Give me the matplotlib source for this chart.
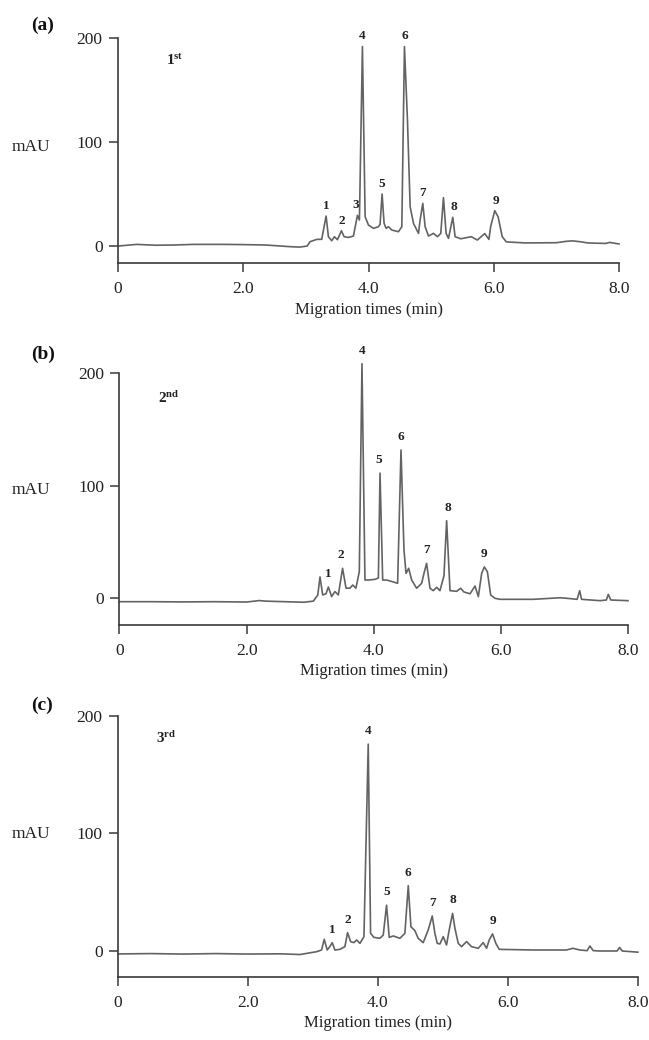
import matplotlib
matplotlib.use("Agg")
import matplotlib.pyplot as plt

# =========================
# Traces (time in min, signal in mAU)
# =========================

# (a) 1st run
a_time = [0.0, 0.3, 0.6, 0.9, 1.2, 1.7, 2.0, 2.36, 2.75, 2.9, 3.02, 3.067, 3.174, 3.253,
          3.323, 3.36, 3.413, 3.456, 3.504, 3.568, 3.61, 3.679, 3.759, 3.823, 3.855, 3.903,
          3.946, 3.999, 4.079, 4.159, 4.185, 4.217, 4.249, 4.281, 4.319, 4.372, 4.478, 4.532,
          4.574, 4.622, 4.665, 4.718, 4.798, 4.824, 4.867, 4.904, 4.958, 5.037, 5.101, 5.154,
          5.197, 5.239, 5.277, 5.346, 5.383, 5.473, 5.64, 5.738, 5.856, 5.923, 5.95, 6.016,
          6.07, 6.135, 6.201, 6.5, 7.0, 7.15, 7.26, 7.4, 7.5, 7.79, 7.85, 8.0]
a_signal = [0, 1.6, 0.8, 1.0, 1.6, 1.6, 1.4, 1.0, -0.6, -1.0, 0, 4.2, 6.4, 6.5,
            28.8, 9, 5.1, 9, 6.1, 14.7, 9, 8.3, 9.6, 29.5, 25, 191.7,
            28.2, 20.2, 17, 18.6, 21, 50, 21.8, 17, 18.6, 15.4, 13.8, 18.6,
            191.7, 121, 37.8, 21.8, 12.2, 25, 41, 18.6, 9.6, 12.2, 9, 12.2,
            46.5, 12.2, 7.4, 27.6, 9, 7, 9, 5.8, 12, 6.4, 18.6, 34,
            28, 9, 4, 3, 3.2, 4.5, 5, 4, 3, 2.5, 3.5, 2]
a_peak_ids = ["1", "2", "3", "4", "5", "6", "7", "8", "9"]
a_peak_t = [3.323, 3.568, 3.80, 3.903, 4.217, 4.574, 4.867, 5.36, 6.03]
a_peak_h = [28.8, 14.7, 29.5, 191.7, 50, 191.7, 41, 27.6, 34]

# (b) 2nd run
b_time = [0.0, 0.5, 1.0, 1.5, 2.0, 2.2, 2.3, 2.6, 2.9, 3.05, 3.12, 3.155, 3.197, 3.249,
          3.286, 3.338, 3.39, 3.443, 3.51, 3.564, 3.627, 3.669, 3.72, 3.773, 3.815, 3.862,
          3.915, 4.02, 4.073, 4.099, 4.141, 4.203, 4.308, 4.376, 4.429, 4.476, 4.508, 4.55,
          4.597, 4.675, 4.754, 4.79, 4.832, 4.885, 4.937, 4.99, 5.042, 5.105, 5.147, 5.2,
          5.305, 5.368, 5.42, 5.515, 5.593, 5.646, 5.698, 5.74, 5.788, 5.84, 5.908, 5.987,
          6.51, 6.93, 7.04, 7.2, 7.24, 7.27, 7.56, 7.66, 7.69, 7.73, 8.0]
b_signal = [-3, -3, -3.2, -3, -3.3, -2, -2.5, -3, -3.5, -2.5, 3, 19, 3, 4,
            10, 1.5, 6, 3, 26.6, 9, 9, 11.8, 9, 23.6, 208, 16.2,
            16.2, 16.8, 18, 111, 16.2, 16.2, 14.5, 13.3, 131.5, 42.8, 22.1, 26.6,
            16.2, 8.9, 13.3, 22, 31, 8.9, 6.8, 9.7, 6.8, 20, 68.8, 6.8,
            6.2, 8.9, 5.6, 4, 10.9, 1.5, 22.1, 27.8, 23.6, 2.9, 0, -0.9,
            -0.9, 0.5, 0, -0.9, 6.7, -0.9, -2.1, -1.5, 3.5, -1.5, -2.1]
b_peak_ids = ["1", "2", "4", "5", "6", "7", "8", "9"]
b_peak_t = [3.286, 3.49, 3.815, 4.085, 4.42, 4.832, 5.16, 5.74]
b_peak_h = [10, 26.6, 208, 111, 131.5, 31, 68.8, 27.8]

# (c) 3rd run
c_time = [0.0, 0.5, 1.0, 1.5, 2.0, 2.5, 2.8, 3.056, 3.133, 3.174, 3.22, 3.26, 3.297, 3.338,
          3.415, 3.492, 3.533, 3.58, 3.631, 3.672, 3.723, 3.785, 3.851, 3.887, 3.938, 4.03,
          4.082, 4.133, 4.174, 4.236, 4.338, 4.415, 4.467, 4.508, 4.569, 4.62, 4.697, 4.774,
          4.836, 4.877, 4.913, 4.954, 5.005, 5.056, 5.097, 5.149, 5.185, 5.236, 5.287, 5.364,
          5.441, 5.544, 5.62, 5.672, 5.713, 5.764, 5.815, 5.867, 6.39, 6.9, 7.0, 7.108,
          7.22, 7.262, 7.313, 7.415, 7.68, 7.72, 7.76, 8.0]
c_signal = [-2.5, -2.2, -2.6, -2.2, -2.6, -2.4, -3.0, -0.6, 0.85, 9.9, 0.85, 3.7, 7.1, 0.85,
            1.4, 3.7, 15.6, 8, 7.1, 9.4, 6.5, 12.2, 176, 15, 11.6, 10.8,
            13.6, 39, 11.6, 12.8, 10.8, 15, 55.6, 20.7, 17.3, 10.8, 7.1, 17.9,
            29.8, 15, 6.5, 6, 12.2, 5.1, 17.9, 32, 19.3, 6.5, 3.7, 8,
            3.7, 2.3, 7.1, 2.3, 9.4, 14.5, 6.5, 1.4, 0.85, 0.85, 2.3, 0.85,
            0.3, 4.3, 0.3, 0, 0, 3, 0, -1]
c_peak_ids = ["1", "2", "4", "5", "6", "7", "8", "9"]
c_peak_t = [3.297, 3.533, 3.851, 4.133, 4.467, 4.836, 5.149, 5.764]
c_peak_h = [7.1, 15.6, 176, 39, 55.6, 29.8, 32, 14.5]

x_ticks = [0, 2, 4, 6, 8]
x_tick_labels = ["0", "2.0", "4.0", "6.0", "8.0"]
y_ticks = [0, 100, 200]

# =========================
# Style
# =========================
plt.rcParams["font.family"] = ["Liberation Serif", "DejaVu Serif"]
plt.rcParams["mathtext.fontset"] = "custom"
plt.rcParams["mathtext.rm"] = "Liberation Serif"
plt.rcParams["mathtext.bf"] = "Liberation Serif:bold"

trace_color = "#636363"
axis_color = "#3a3a3a"

fig = plt.figure(figsize=(6.49, 10.40), dpi=100)

panels = [
    dict(rect=[0.1818, 0.7468, 0.772, 0.2167], ylim=(-16.6, 200),
         t=a_time, s=a_signal, ids=a_peak_ids, pt=a_peak_t, ph=a_peak_h,
         letter="(a)", letter_y=0.976, mau_y=0.859, run=r"$\mathbf{1^{st}}$",
         run_xy=(0.256, 0.942), off=3),
    dict(rect=[0.1841, 0.399, 0.7835, 0.2426], ylim=(-23.7, 200),
         t=b_time, s=b_signal, ids=b_peak_ids, pt=b_peak_t, ph=b_peak_h,
         letter="(b)", letter_y=0.659, mau_y=0.529, run=r"$\mathbf{2^{nd}}$",
         run_xy=(0.243, 0.617), off=5),
    dict(rect=[0.1818, 0.0606, 0.801, 0.251], ylim=(-22.1, 200),
         t=c_time, s=c_signal, ids=c_peak_ids, pt=c_peak_t, ph=c_peak_h,
         letter="(c)", letter_y=0.322, mau_y=0.198, run=r"$\mathbf{3^{rd}}$",
         run_xy=(0.240, 0.290), off=5),
]

for p in panels:
    ax = fig.add_axes(p["rect"])
    ax.plot(p["t"], p["s"], color=trace_color, linewidth=1.2, clip_on=False)

    for pid, pt, ph in zip(p["ids"], p["pt"], p["ph"]):
        ax.annotate(pid, xy=(pt, ph), xytext=(0, p["off"]), textcoords="offset points",
                    ha="center", va="bottom", fontsize=9.5, fontweight="bold",
                    color="#222222", annotation_clip=False)

    ax.set_xlim(0, 8)
    ax.set_ylim(*p["ylim"])
    ax.set_xticks(x_ticks)
    ax.set_xticklabels(x_tick_labels)
    ax.set_yticks(y_ticks)

    for side in ["top", "right"]:
        ax.spines[side].set_visible(False)
    for side in ["left", "bottom"]:
        ax.spines[side].set_color(axis_color)
        ax.spines[side].set_linewidth(1.2)

    ax.tick_params(axis="both", direction="out", length=6.5, width=1.1,
                   colors=axis_color, labelsize=12.5, labelcolor="#222222")
    ax.tick_params(axis="x", pad=6.5)
    ax.tick_params(axis="y", pad=4.5)

    ax.set_xlabel("Migration times (min)", fontsize=12, color="#222222", labelpad=3)

    fig.text(0.048, p["letter_y"], p["letter"], ha="left", va="center",
             fontsize=14, fontweight="bold", color="#111111")
    fig.text(0.0185, p["mau_y"], "mAU", ha="left", va="center",
             fontsize=12.5, color="#222222")
    fig.text(p["run_xy"][0], p["run_xy"][1], p["run"], ha="left", va="center",
             fontsize=11, color="#222222")

fig.savefig("out.png", dpi=100)
